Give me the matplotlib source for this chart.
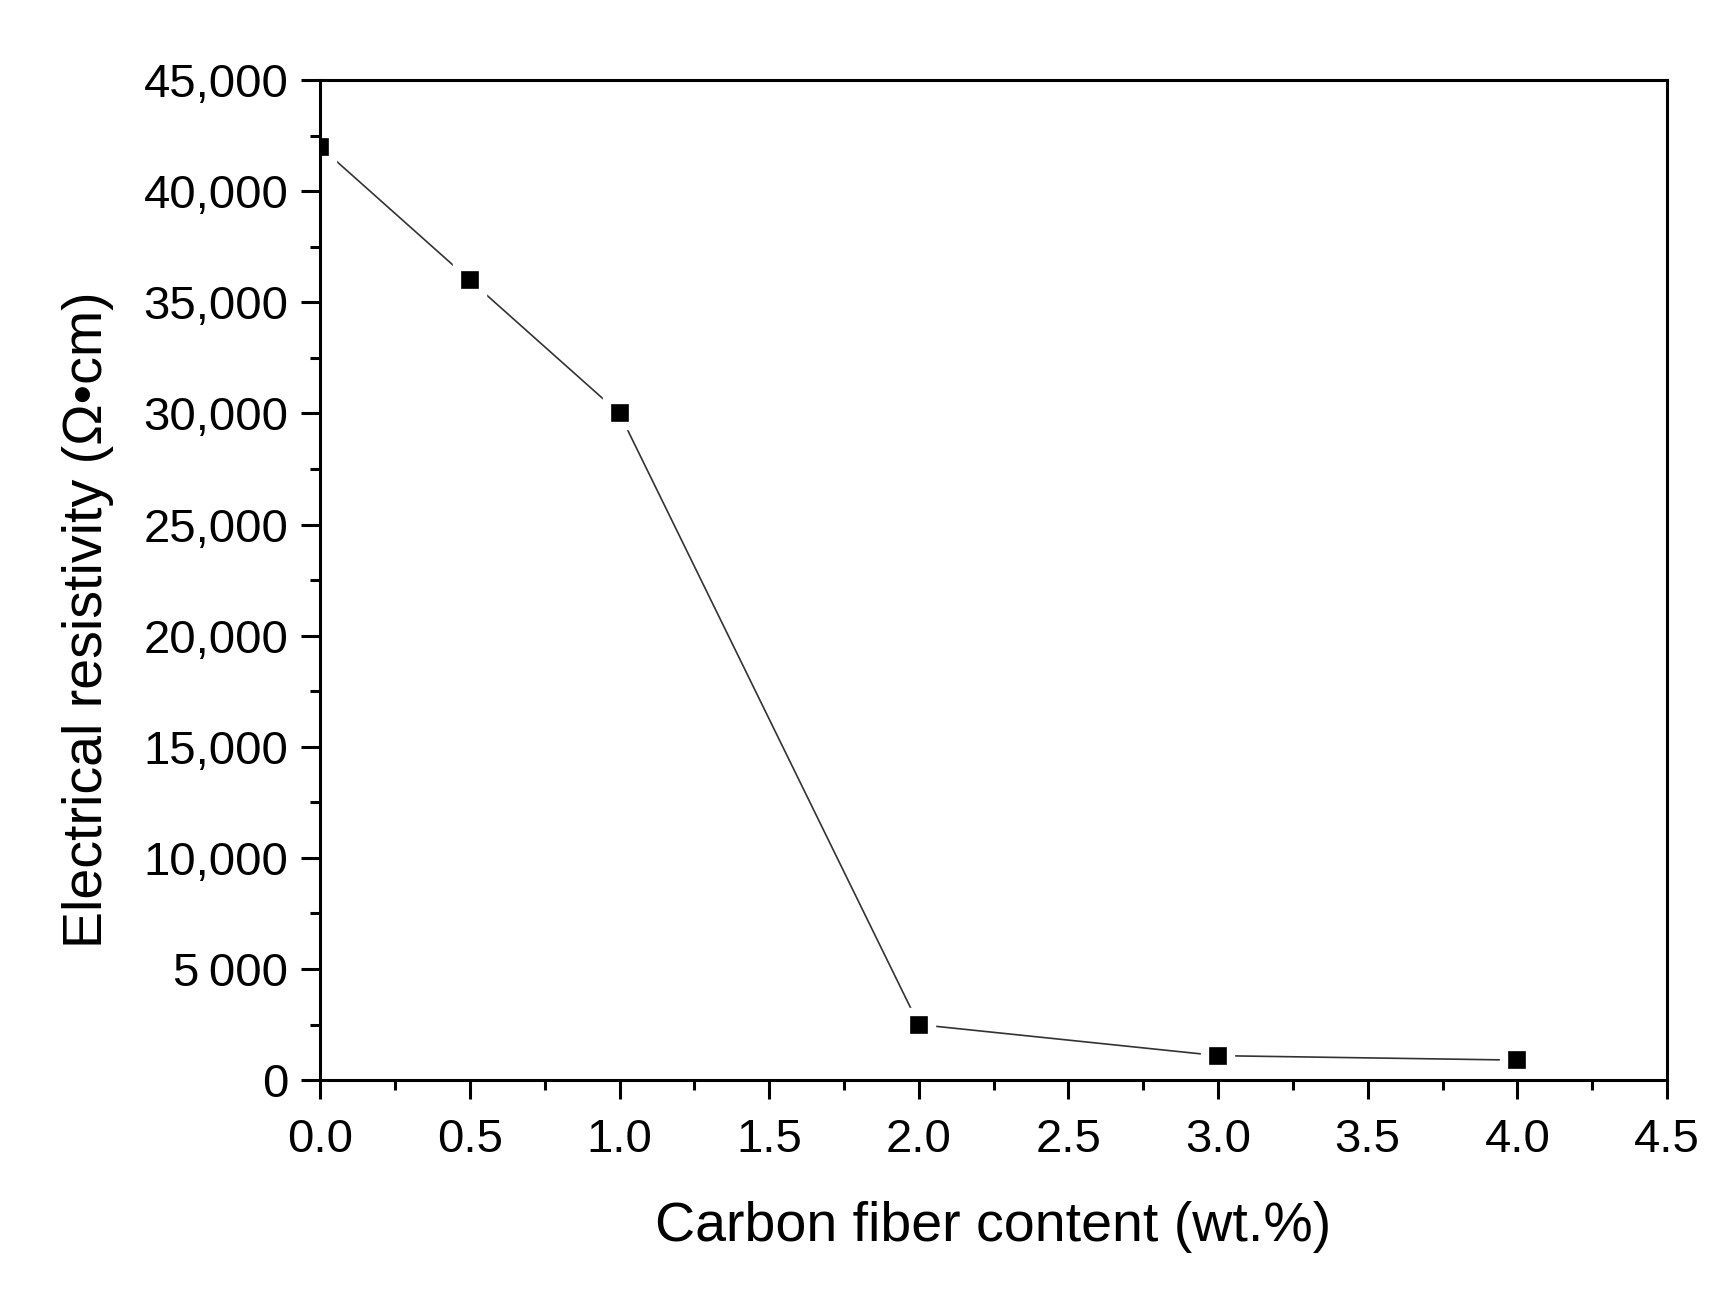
import matplotlib.pyplot as plt
from matplotlib.ticker import FuncFormatter, MultipleLocator

plt.rcParams["font.family"] = ["Liberation Sans", "DejaVu Sans"]

# carbon fiber content (wt.%) vs electrical resistivity (ohm cm)
fiber_content = [0.0, 0.5, 1.0, 2.0, 3.0, 4.0]
resistivity = [42000, 36000, 30000, 2500, 1100, 900]

x_label = "Carbon fiber content (wt.%)"
y_label = "Electrical resistivity (\u03a9\u2022cm)"


def fmt_y(v, pos):
    v = int(round(v))
    if v == 0:
        return "0"
    if v < 10000:
        return f"{v // 1000}\u2009{v % 1000:03d}"
    return f"{v:,}"


fig = plt.figure(figsize=(17.31, 12.92), dpi=100)
ax = fig.add_axes([0.185, 0.164, 0.778, 0.774])

# white marker edge leaves the small gap around each point, like the original
ax.plot(
    fiber_content,
    resistivity,
    color="#333333",
    linewidth=1.2,
    marker="s",
    markersize=19,
    markerfacecolor="black",
    markeredgecolor="white",
    markeredgewidth=6,
)

ax.set_xlim(0, 4.5)
ax.set_ylim(0, 45000)
ax.xaxis.set_major_locator(MultipleLocator(0.5))
ax.xaxis.set_minor_locator(MultipleLocator(0.25))
ax.yaxis.set_major_locator(MultipleLocator(5000))
ax.yaxis.set_minor_locator(MultipleLocator(2500))
ax.xaxis.set_major_formatter(FuncFormatter(lambda v, p: f"{v:.1f}"))
ax.yaxis.set_major_formatter(FuncFormatter(fmt_y))

ax.tick_params(which="major", direction="out", length=14, width=2.2,
               labelsize=34, pad=9, colors="black")
ax.tick_params(which="minor", direction="out", length=7, width=2.2)
ax.tick_params(axis="x", pad=13)

for spine in ax.spines.values():
    spine.set_linewidth(2.2)

ax.set_xlabel(x_label, fontsize=40)
ax.set_ylabel(y_label, fontsize=40)
ax.xaxis.set_label_coords(0.5, -0.121)
ax.yaxis.set_label_coords(-0.153, 0.46)

plt.savefig("out.png", dpi=100)
plt.close(fig)
